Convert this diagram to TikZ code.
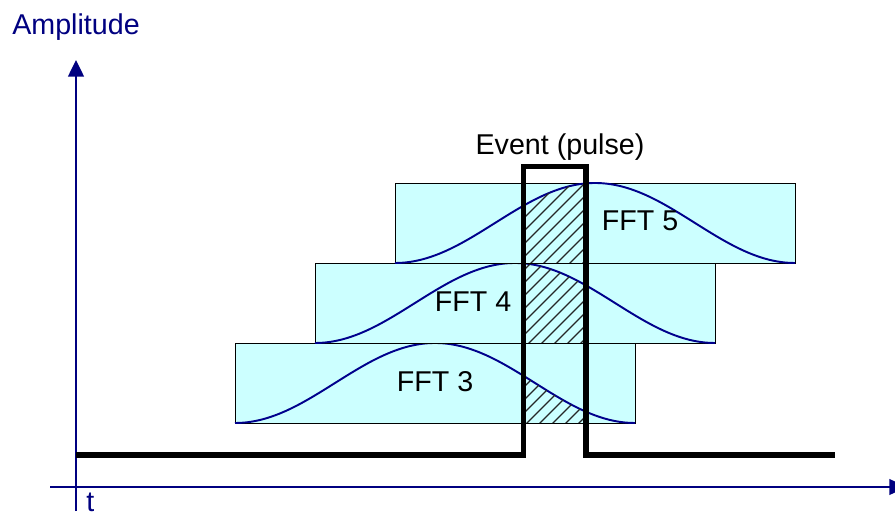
\documentclass[tikz,border=0pt]{standalone}
\usepackage{fontspec}
\setmainfont{Liberation Sans}
\usetikzlibrary{arrows.meta}
\definecolor{axisblue}{RGB}{0,0,128}
\definecolor{fftcyan}{RGB}{204,255,255}
\definecolor{curveblue}{RGB}{0,0,140}

\begin{document}
\begin{tikzpicture}[x=0.02cm,y=-0.02cm,font=\fontsize{16.3}{19}\selectfont,
  axis/.style={axisblue, line width=1.2pt, -{Triangle[width=9pt,length=9.5pt]}},
  fftbox/.style={fill=fftcyan, draw=black, line width=0.5pt},
  window/.style={curveblue, line width=1.1pt},
  hatch/.style={black!85, line width=0.75pt},
  signal/.style={line width=3.1pt, line join=miter}]
  \useasboundingbox (0,0) rectangle (895,516);
  \coordinate (ybot) at (76,511);
  \coordinate (ytop) at (76,60);
  \coordinate (xleft) at (50,487);
  \coordinate (xright) at (906,487);
  \draw[axis] (ybot) -- (ytop);
  \draw[axis] (xleft) -- (xright);
  \node[axisblue, anchor=base west, inner sep=0pt] (amp) at (12,35) {Amplitude};
  \node[axisblue, anchor=base west, inner sep=0pt] (tlabel) at (86,511) {t};
  \foreach \l/\b in {235/423,315/343,395/263}{
    \draw[fftbox] (\l,\b) rectangle ++(400,-80);
    \draw[window, domain=0:400, samples=80, smooth, variable=\x] plot ({\l+\x}, {\b-40*(1-cos(0.9*\x))});
    \begin{scope}
      \clip plot[domain=526-\l:584-\l, samples=20, variable=\x] ({\l+\x}, {\b-40*(1-cos(0.9*\x))}) -- (584,\b) -- (526,\b) -- cycle;
      \foreach \s in {170,183,...,520}
        \draw[hatch] (520,\s) -- (600,\s-80);
    \end{scope}
  }
  \foreach \n/\px/\py in {3/435/392,4/473/312,5/640/231}
    \node[anchor=base, inner sep=0pt] (fft\n) at (\px,\py) {FFT \n};
  \node[anchor=base, inner sep=0pt] (event) at (560,155) {Event (pulse)};
  \draw[signal] (76,455) -- (523.5,455) -- (523.5,166.5) -- (586,166.5) -- (586,455) -- (835,455);
\end{tikzpicture}
\end{document}
